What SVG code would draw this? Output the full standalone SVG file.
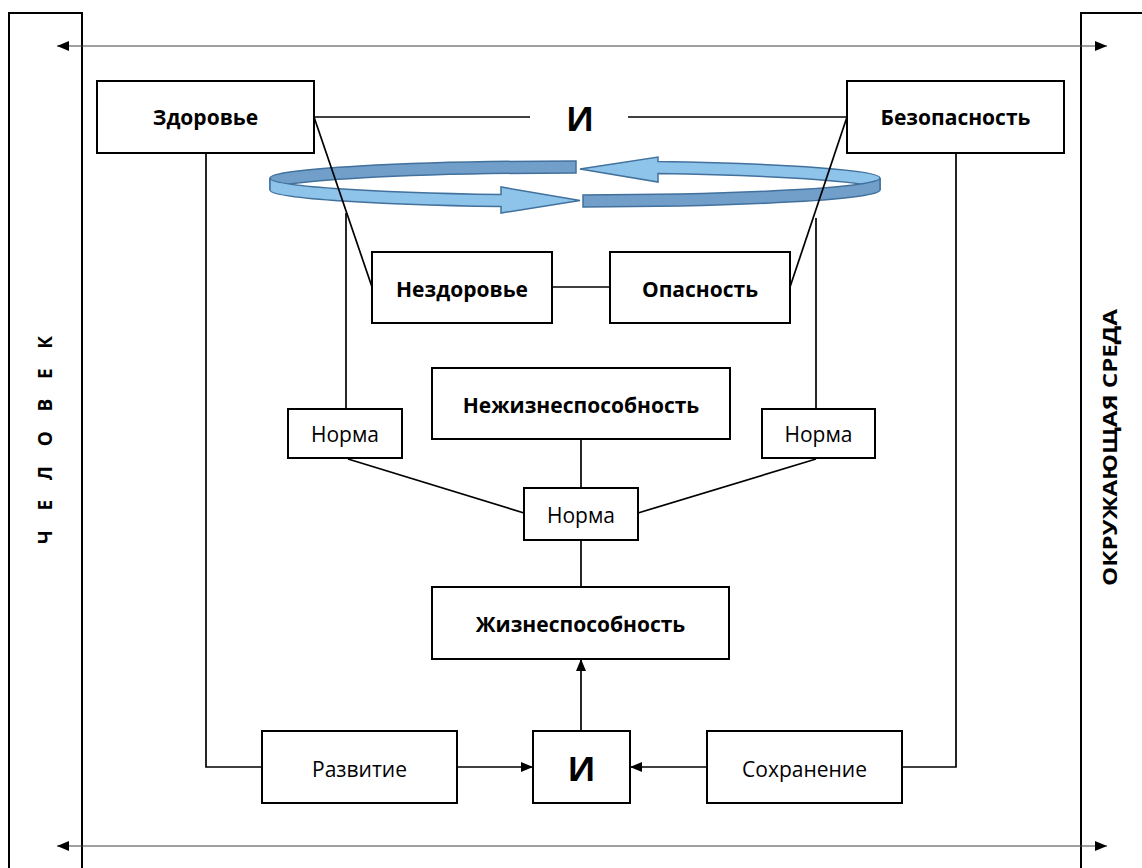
<svg xmlns="http://www.w3.org/2000/svg" width="1142" height="868" viewBox="0 0 1142 868">
<style>
.box{fill:#fff;stroke:#000;stroke-width:2}
.bar{fill:#fff;stroke:#000;stroke-width:2}
.ln{fill:none;stroke:#000;stroke-width:1.7}
.thin{fill:none;stroke:#404040;stroke-width:1}
.tb{font-family:"Open Sans","Liberation Sans",sans-serif;font-weight:bold;font-size:21px;text-anchor:middle;dominant-baseline:central;fill:#000}
.tr{font-family:"Open Sans","Liberation Sans",sans-serif;font-size:21px;text-anchor:middle;dominant-baseline:central;fill:#000}
.vt{font-family:"Open Sans","Liberation Sans",sans-serif;font-weight:bold;font-size:19px;dominant-baseline:central;fill:#000}
.big{font-family:"Open Sans","Liberation Sans",sans-serif;font-weight:bold;font-size:34px;text-anchor:middle;dominant-baseline:central;fill:#000}
.lite{fill:#8EC3EA;stroke:#41719C;stroke-width:1.5}
.dark{fill:#719FCA;stroke:#41719C;stroke-width:1.5}
</style>
<defs>
<marker id="ah" viewBox="0 0 12 10" refX="12" refY="5" markerWidth="12" markerHeight="10" markerUnits="userSpaceOnUse" orient="auto-start-reverse"><path d="M0,0 L12,5 L0,10 Z" fill="#000"/></marker>
</defs>
<rect width="1142" height="868" fill="#fff"/>
<g id="chelovek">
<rect class="bar" x="9" y="13" width="73" height="870"/>
<text class="vt" transform="translate(45,544) rotate(-90)" font-size="17" letter-spacing="19.7">ЧЕЛОВЕК</text>
</g>
<g id="sreda">
<rect class="bar" x="1081" y="13" width="80" height="870"/>
<text class="vt" transform="translate(1110,586) rotate(-90)" textLength="277" lengthAdjust="spacingAndGlyphs">ОКРУЖАЮЩАЯ СРЕДА</text>
</g>
<g id="ring">
<path class="dark" d="M270,178 A305,17 0 0,1 576,161 L576,173 A305,17 0 0,0 270,190 Z"/>
<path class="lite" d="M658,161.6 A305,17 0 0,1 880,178 L880,190 A305,17 0 0,0 658,173.6 L658,182 L580,169 L658,157 Z"/>
<path class="lite" d="M270,178 A305,17 0 0,0 501,194.5 L501,187 L580,200.5 L501,213 L501,206.5 A305,17 0 0,1 270,190 Z"/>
<path class="dark" d="M583,195 A305,17 0 0,0 880,178 L880,190 A305,17 0 0,1 583,207 Z"/>
</g>
<g id="connectors">
<line class="thin" x1="57" y1="46" x2="1107" y2="46" marker-start="url(#ah)" marker-end="url(#ah)"/>
<line class="thin" x1="57" y1="846" x2="1107" y2="846" marker-start="url(#ah)" marker-end="url(#ah)"/>
<line class="ln" x1="314" y1="117" x2="530" y2="117"/>
<line class="ln" x1="628" y1="117" x2="847" y2="117"/>
<line class="ln" x1="314" y1="117" x2="372" y2="287"/>
<line class="ln" x1="847" y1="117" x2="790" y2="287"/>
<line class="ln" x1="552" y1="287" x2="610" y2="287"/>
<polyline class="ln" points="206,153 206,767 262,767"/>
<polyline class="ln" points="956,153 956,767 902,767"/>
<line class="ln" x1="346" y1="213" x2="346" y2="409"/>
<line class="ln" x1="816" y1="218" x2="816" y2="409"/>
<line class="ln" x1="348" y1="459" x2="524" y2="513"/>
<line class="ln" x1="638" y1="513" x2="816" y2="459"/>
<line class="ln" x1="581" y1="439" x2="581" y2="488"/>
<line class="ln" x1="581" y1="540" x2="581" y2="587"/>
<line class="ln" x1="457" y1="767" x2="533" y2="767" marker-end="url(#ah)"/>
<line class="ln" x1="707" y1="767" x2="630" y2="767" marker-end="url(#ah)"/>
<line class="ln" x1="581" y1="731" x2="581" y2="659" marker-end="url(#ah)"/>
</g>
<text class="big" x="580" y="118">И</text>
<g id="zdorovie"><rect class="box" x="97" y="81" width="217" height="72"/><text class="tb" x="205.5" y="117">Здоровье</text></g>
<g id="bezopasnost"><rect class="box" x="847" y="81" width="217" height="72"/><text class="tb" x="955.5" y="117">Безопасность</text></g>
<g id="nezdorovie"><rect class="box" x="372" y="252" width="180" height="71"/><text class="tb" x="462" y="289">Нездоровье</text></g>
<g id="opasnost"><rect class="box" x="610" y="252" width="180" height="71"/><text class="tb" x="700" y="289">Опасность</text></g>
<g id="nezhiznesposobnost"><rect class="box" x="432" y="368" width="298" height="71"/><text class="tb" x="581" y="405">Нежизнеспособность</text></g>
<g id="norma-left"><rect class="box" x="288" y="409" width="114" height="49"/><text class="tr" x="345" y="434">Норма</text></g>
<g id="norma-right"><rect class="box" x="762" y="409" width="113" height="49"/><text class="tr" x="818.5" y="434">Норма</text></g>
<g id="norma-center"><rect class="box" x="524" y="488" width="114" height="52"/><text class="tr" x="581" y="515">Норма</text></g>
<g id="zhiznesposobnost"><rect class="box" x="432" y="587" width="297" height="72"/><text class="tb" x="580.5" y="624">Жизнеспособность</text></g>
<g id="razvitie"><rect class="box" x="262" y="731" width="195" height="72"/><text class="tr" x="359.5" y="769">Развитие</text></g>
<g id="i-node"><rect class="box" x="533" y="731" width="97" height="72"/><text class="big" x="581.5" y="768">И</text></g>
<g id="sokhranenie"><rect class="box" x="707" y="731" width="195" height="72"/><text class="tr" x="804.5" y="769">Сохранение</text></g>
</svg>
